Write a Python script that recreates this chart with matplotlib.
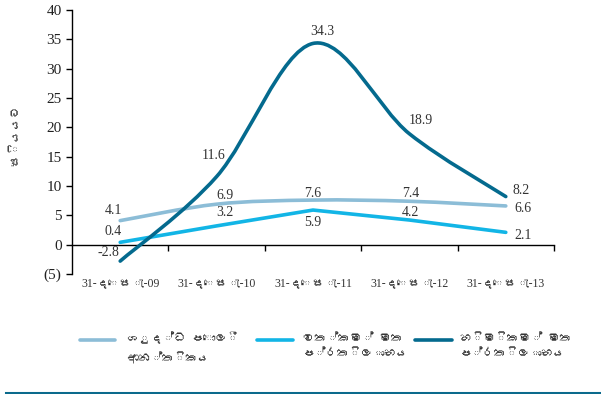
import matplotlib
matplotlib.use("Agg")
import matplotlib.pyplot as plt
from matplotlib import font_manager as fm
from matplotlib.path import Path
from matplotlib.patches import PathPatch
from matplotlib.lines import Line2D
from matplotlib.ticker import FuncFormatter

# ---------------- data ----------------
categories = ["31-දෙසැ-09", "31-දෙසැ-10", "31-දෙසැ-11", "31-දෙසැ-12", "31-දෙසැ-13"]
net_interest_margin = [4.1, 6.9, 7.6, 7.4, 6.6]
return_on_assets = [0.4, 3.2, 5.9, 4.2, 2.1]
return_on_equity = [-2.8, 11.6, 34.3, 18.9, 8.2]
series_names = ["ශුද්ධ පොලී\nආන්තිකය", "වත්කම් මත\nප්රතිලාභය", "හිමිකම් මත\nප්රතිලාභය"]
y_label = "සියයට"
y_ticks = [-5, 0, 5, 10, 15, 20, 25, 30, 35, 40]

# ---------------- fonts ----------------
def find_font_for(ch):
    try:
        from fontTools.ttLib import TTFont
    except Exception:
        return None
    for path in fm.findSystemFonts():
        try:
            f = TTFont(path, fontNumber=0, lazy=True)
            cmap = f.getBestCmap()
            if cmap and ord(ch) in cmap:
                return path
        except Exception:
            continue
    return None

sin_family = []
p = find_font_for("ස")
if p:
    try:
        fm.fontManager.addfont(p)
        sin_family = [fm.FontProperties(fname=p).get_name()]
    except Exception:
        sin_family = []

serif_fam = ["Liberation Serif"] + sin_family + ["DejaVu Serif", "DejaVu Sans"]
sans_fam = sin_family + ["Liberation Sans", "DejaVu Sans"]
plt.rcParams["font.family"] = serif_fam

c_light = "#8cbdd7"
c_mid = "#12b5e6"
c_dark = "#046a8e"

W, H = 601, 394
fig = plt.figure(figsize=(W / 100, H / 100), dpi=100)
ax = fig.add_axes([72 / W, 1 - 274 / H, (554 - 72) / W, (274 - 10) / H])

x = list(range(len(categories)))
ax.set_xlim(-0.5, len(categories) - 0.5)
ax.set_ylim(-5, 40)


def smooth_path(xs, ys):
    pts = list(zip(xs, ys))
    n = len(pts)
    verts = [pts[0]]
    codes = [Path.MOVETO]
    for i in range(n - 1):
        p0 = pts[i - 1] if i > 0 else pts[i]
        p1 = pts[i]
        p2 = pts[i + 1]
        p3 = pts[i + 2] if i + 2 < n else pts[i + 1]
        c1 = (p1[0] + (p2[0] - p0[0]) / 6, p1[1] + (p2[1] - p0[1]) / 6)
        c2 = (p2[0] - (p3[0] - p1[0]) / 6, p2[1] - (p3[1] - p1[1]) / 6)
        verts += [c1, c2, p2]
        codes += [Path.CURVE4] * 3
    return Path(verts, codes)


lw = 2.6
ax.add_patch(PathPatch(smooth_path(x, net_interest_margin), fill=False,
                       edgecolor=c_light, lw=lw, capstyle="round", joinstyle="round", zorder=3))
ax.plot(x, return_on_assets, color=c_mid, lw=lw, solid_capstyle="round",
        solid_joinstyle="round", zorder=3)
ax.add_patch(PathPatch(smooth_path(x, return_on_equity), fill=False,
                       edgecolor=c_dark, lw=lw, capstyle="round", joinstyle="round", zorder=4))

# data labels (offsets in pixels, converted to points)
px = 0.72
offs_light = [(-7, 10), (8, 8.5), (0, 7), (1, 7.5), (17, -3)]
offs_mid = [(-7, 10.5), (8, 13), (0, -12), (1, 8), (17, -3)]
offs_dark = [(-12, 8.5), (-3, 21), (9, 12), (11, 13), (15, 6)]
for vals, offs in ((net_interest_margin, offs_light), (return_on_assets, offs_mid),
                   (return_on_equity, offs_dark)):
    for i, v in enumerate(vals):
        ax.annotate(f"{v:.1f}", (i, v), xytext=(offs[i][0] * px, offs[i][1] * px),
                    textcoords="offset points", ha="center", va="center",
                    fontsize=10, color="#333333", zorder=5)

# axes styling
for s in ("top", "right"):
    ax.spines[s].set_visible(False)
ax.spines["bottom"].set_position(("data", 0))
ax.spines["bottom"].set_linewidth(1.0)
ax.spines["left"].set_linewidth(1.0)
ax.set_yticks(y_ticks)
ax.yaxis.set_major_formatter(FuncFormatter(lambda v, pos: f"({abs(int(v))})" if v < 0 else f"{int(v)}"))
ax.tick_params(axis="y", direction="out", length=4.5, width=1.0, labelsize=11,
               labelcolor="#222222", pad=3)
ax.set_xticks([i + 0.5 for i in x])
ax.tick_params(axis="x", direction="out", length=4.5, width=1.0, labelbottom=False)

for i, lab in enumerate(categories):
    ax.annotate(lab, (i, 0), xycoords=("data", "axes fraction"), xytext=(0, -9 * px),
                textcoords="offset points", ha="center", va="center", fontsize=8.5,
                color="#333333", family=serif_fam)

fig.text(15 / W, 1 - 135 / H, y_label, rotation=90, ha="center", va="center",
         fontsize=9, color="#444444", family=sans_fam)

# manual legend
legend_items = [(80, 115, 127, c_light), (257, 293, 303, c_mid), (415, 452, 460, c_dark)]
for (x0, x1, tx, col), name in zip(legend_items, series_names):
    fig.add_artist(Line2D([x0 / W, x1 / W], [1 - 340 / H, 1 - 340 / H], color=col,
                          lw=lw, solid_capstyle="round", transform=fig.transFigure))
    fig.text(tx / W, 1 - 332 / H, name, ha="left", va="top", fontsize=8.5,
             color="#333333", family=sans_fam, linespacing=1.7)

# bottom rule
fig.add_artist(Line2D([6 / W, 1.0], [1 - 392.5 / H, 1 - 392.5 / H], color="#0b6a8c",
                      lw=2.2, transform=fig.transFigure))

fig.savefig("out.png", dpi=100)
